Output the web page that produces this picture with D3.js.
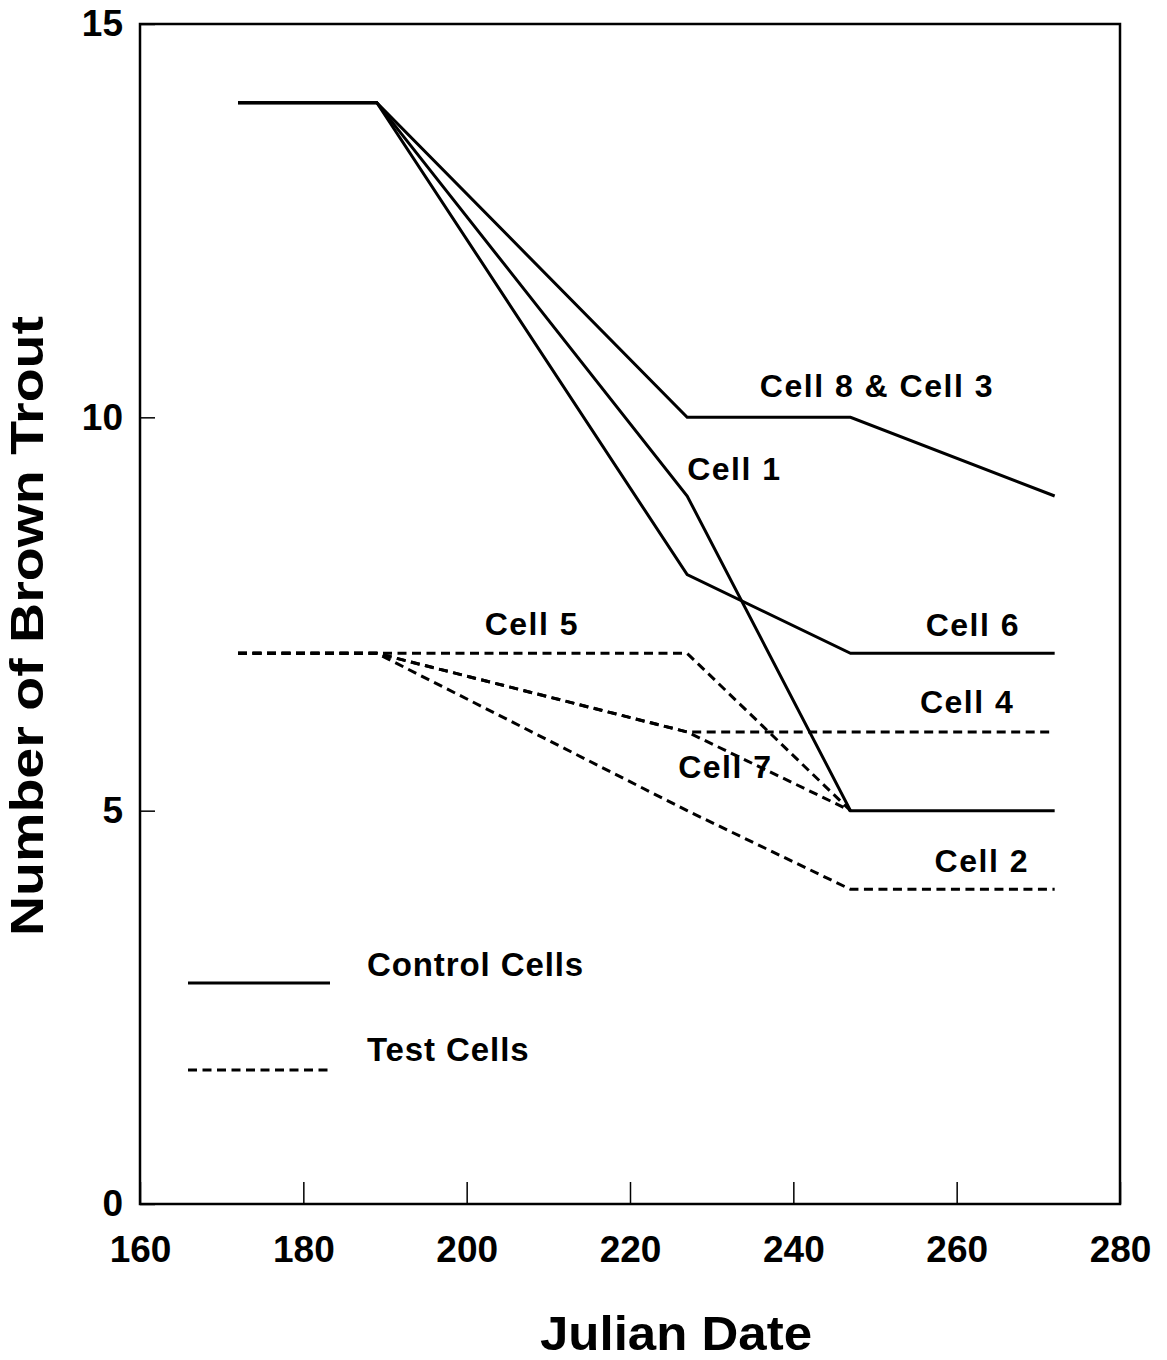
<!DOCTYPE html>
<html>
<head>
<meta charset="utf-8">
<script src="https://cdn.jsdelivr.net/npm/d3@7"></script>
<style>
    body { margin: 0; background: #fff; }
    text { font-family: "Liberation Sans", Arial, sans-serif; font-weight: bold; fill: #000; }
</style>
</head>
<body>
<div id="chart"></div>
<script>
//Datos
const julianDates = [172, 189, 227, 247, 272];

//Control cells (línea continua)
const cell8and3 = [14, 14, 10, 10, 9];
const cell1 = [14, 14, 9, 5, 5];
const cell6 = [14, 14, 8, 7, 7];

//Test cells (línea discontinua)
const cell5 = [7, 7, 7, 5, null];
const cell4 = [7, 7, 6, 6, 6];
const cell7 = [7, 7, 6, 5, null];
const cell2 = [7, 7, 5, 4, 4];

const xTicks = [160, 180, 200, 220, 240, 260, 280];
const yTicks = [0, 5, 10, 15];

//Etiquetas de cada celda (en unidades de los datos)
const labelNames = ['Cell 8 & Cell 3', 'Cell 1', 'Cell 6', 'Cell 5', 'Cell 4', 'Cell 7', 'Cell 2'];
const labelDates = [235.9, 227, 256.2, 202.2, 255.5, 225.9, 257.3];
const labelValues = [10.26, 9.2, 7.22, 7.23, 6.24, 5.42, 4.22];

const legendNames = ['Control Cells', 'Test Cells'];

const DASH = '9,5.5';

let margin = {top: 24, right: 47, bottom: 156, left: 140},
    width = 1167 - margin.left - margin.right,
    height = 1360 - margin.top - margin.bottom;

let svg = d3.select('#chart')
    .append('svg')
        .attr('width', 1167)
        .attr('height', 1360)
    .append('g')
        .attr('transform', 'translate(' + margin.left + ',' + margin.top + ')');

let x = d3.scaleLinear()
    .domain([160, 280])
    .range([0, width]);

let y = d3.scaleLinear()
    .domain([0, 15])
    .range([height, 0]);

//Ejes
let xAxis = function(g) {
    g.call(d3.axisBottom(x).tickValues(xTicks).tickSizeInner(-22).tickSizeOuter(0).tickPadding(32));
    g.select('.domain').remove();
    g.selectAll('.tick line').attr('stroke', '#000').attr('stroke-width', 1.5);
    g.selectAll('.tick text').style('font-size', '37px');
}

let yAxis = function(g) {
    g.call(d3.axisLeft(y).tickValues(yTicks).tickSizeInner(-15).tickSizeOuter(0).tickPadding(17));
    g.select('.domain').remove();
    g.selectAll('.tick line').attr('stroke', '#000').attr('stroke-width', 1.5);
    g.selectAll('.tick text').style('font-size', '37px');
}

svg.append('g')
    .attr('transform', 'translate(0,' + height + ')')
    .call(xAxis);

svg.append('g')
    .call(yAxis);

//Marco
svg.append('rect')
    .attr('x', 0)
    .attr('y', 0)
    .attr('width', width)
    .attr('height', height)
    .attr('fill', 'none')
    .attr('stroke', '#000')
    .attr('stroke-width', 2.5);

//Líneas
let line = d3.line()
    .defined(function(d) { return d.v != null; })
    .x(function(d) { return x(d.date); })
    .y(function(d) { return y(d.v); });

function toPoints(values) {
    return values.map(function(v, i) { return {date: julianDates[i], v: v}; });
}

let testSeries = [cell5, cell4, cell7, cell2];
let controlSeries = [cell8and3, cell1, cell6];

svg.selectAll('.test-line')
    .data(testSeries)
    .enter()
    .append('path')
    .attr('class', 'test-line')
    .attr('d', function(d) { return line(toPoints(d)); })
    .attr('fill', 'none')
    .attr('stroke', '#000')
    .attr('stroke-width', 3)
    .attr('stroke-dasharray', DASH);

svg.selectAll('.control-line')
    .data(controlSeries)
    .enter()
    .append('path')
    .attr('class', 'control-line')
    .attr('d', function(d) { return line(toPoints(d)); })
    .attr('fill', 'none')
    .attr('stroke', '#000')
    .attr('stroke-width', 3);

//Etiquetas
svg.selectAll('.cell-label')
    .data(labelNames)
    .enter()
    .append('text')
    .attr('class', 'cell-label')
    .attr('x', function(d, i) { return x(labelDates[i]); })
    .attr('y', function(d, i) { return y(labelValues[i]); })
    .style('font-size', '32px')
    .style('letter-spacing', '1.5px')
    .text(function(d) { return d; });

//Leyenda
let legend = svg.append('g')
    .attr('transform', 'translate(48, 959)');

legend.selectAll('line')
    .data(legendNames)
    .enter()
    .append('line')
    .attr('x1', 0)
    .attr('x2', 142)
    .attr('y1', function(d, i) { return i * 87; })
    .attr('y2', function(d, i) { return i * 87; })
    .attr('stroke', '#000')
    .attr('stroke-width', 3)
    .attr('stroke-dasharray', function(d, i) { return i == 0 ? null : DASH; });

legend.selectAll('text')
    .data(legendNames)
    .enter()
    .append('text')
    .attr('x', 179)
    .attr('y', function(d, i) { return i * 85 - 7; })
    .style('font-size', '33px')
    .style('letter-spacing', '0.9px')
    .text(function(d) { return d; });

//Títulos de los ejes
svg.append('text')
    .attr('x', 536)
    .attr('y', height + 146)
    .attr('text-anchor', 'middle')
    .attr('textLength', 272)
    .attr('lengthAdjust', 'spacingAndGlyphs')
    .style('font-size', '49px')
    .text('Julian Date');

svg.append('text')
    .attr('transform', 'translate(' + (-97) + ',' + 602 + ') rotate(-90)')
    .attr('text-anchor', 'middle')
    .attr('textLength', 620)
    .attr('lengthAdjust', 'spacingAndGlyphs')
    .style('font-size', '46px')
    .text('Number of Brown Trout');
</script>
</body>
</html>
